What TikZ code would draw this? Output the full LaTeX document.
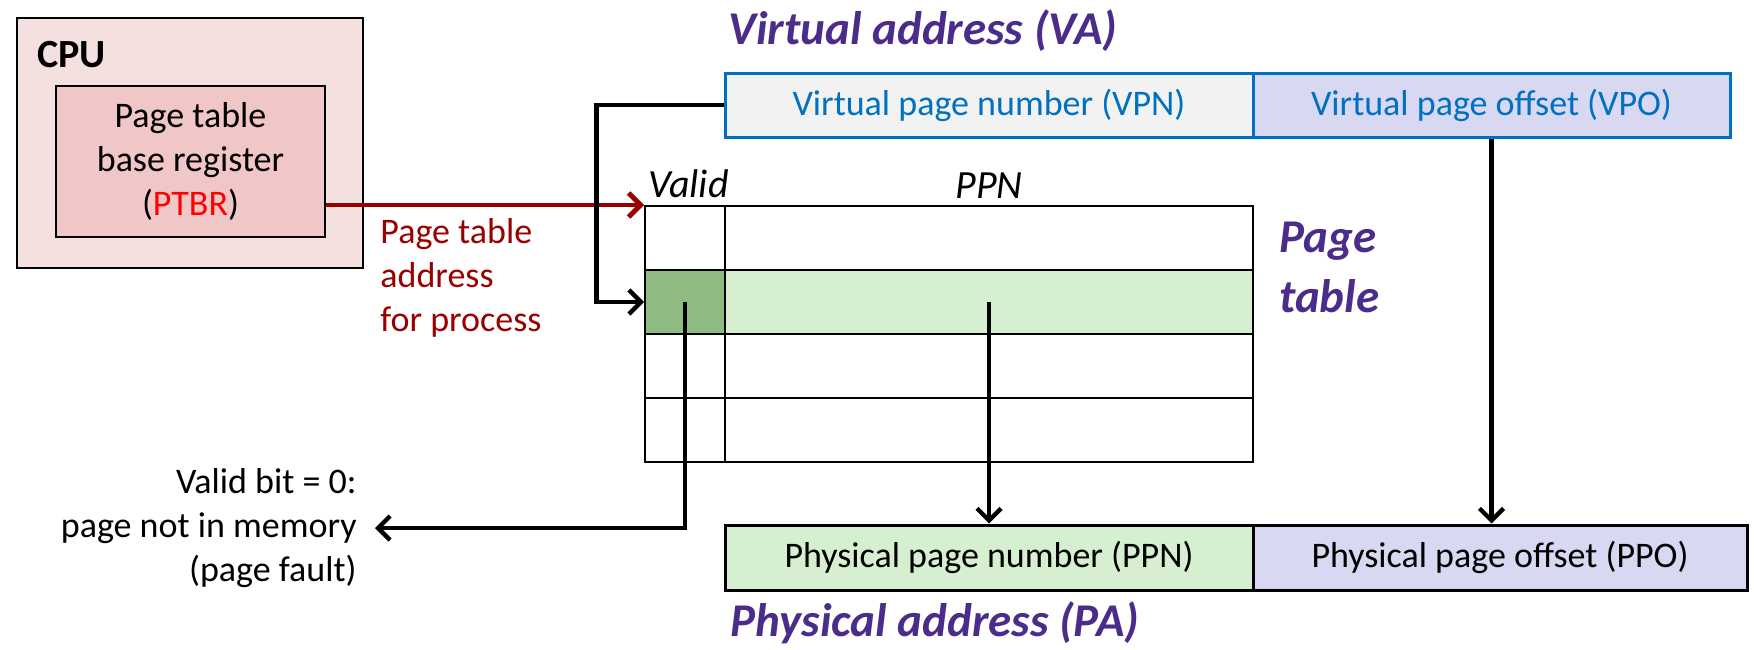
\documentclass[tikz,border=0pt]{standalone}
\usepackage{fontspec}
\setmainfont{Carlito}
\usetikzlibrary{arrows.meta}
\definecolor{cpufill}{RGB}{245,224,224}
\definecolor{ptbrfill}{RGB}{240,198,198}
\definecolor{darkred}{RGB}{153,0,0}
\definecolor{ptred}{RGB}{255,0,0}
\definecolor{vablue}{RGB}{0,112,192}
\definecolor{vpnfill}{RGB}{242,242,242}
\definecolor{lavender}{RGB}{216,216,242}
\definecolor{dgreen}{RGB}{142,187,130}
\definecolor{lgreen}{RGB}{214,239,208}
\definecolor{purp}{RGB}{75,44,138}
\tikzset{
  normal/.style={font=\fontsize{18}{22}\selectfont},
  header/.style={font=\fontsize{20}{24}\selectfont\itshape, inner sep=0},
  title/.style={font=\fontsize{23.5}{30}\selectfont\bfseries\itshape, text=purp, inner sep=0},
  cell/.style={draw, line width=1pt, minimum height=32pt, inner sep=0},
  vbox/.style={draw=vablue, line width=1.5pt, minimum height=32pt, text=vablue, normal, inner sep=0},
  pbox/.style={draw, line width=1.5pt, minimum height=32.5pt, normal, inner sep=0},
  blk/.style={line width=2.2pt, -{Straight Barb[length=6pt,width=12pt]}},
  redarr/.style={draw=darkred, line width=2.4pt, -{Straight Barb[length=6pt,width=12pt]}}
}
\begin{document}
\begin{tikzpicture}[x=0.5pt,y=-0.5pt]
\useasboundingbox (0,0) rectangle (1754,649);
% CPU
\node[draw, line width=1.2pt, fill=cpufill, minimum width=173pt, minimum height=125pt, inner sep=0] (cpu) at (190,143) {};
\node[font=\fontsize{20}{24}\selectfont\bfseries, anchor=base west, inner sep=0] (cputxt) at (37,67) {CPU};
\node[draw, line width=1.2pt, fill=ptbrfill, minimum width=134.5pt, minimum height=75.5pt, normal, align=center, inner sep=0] (ptbr) at (190.5,161.5) {Page table\\base register\\(\textcolor{ptred}{PTBR})};
% titles
\node[title, anchor=base west] (vatitle) at (728,44) {Virtual address (VA)};
\node[title, anchor=base west] (patitle) at (730,636) {Physical address (PA)};
\node[title, anchor=base west, align=left] (pttitle) at (1279,312) {Page\\table};
% virtual address
\node[vbox, fill=vpnfill, minimum width=264pt] (vpn) at (989,105) {Virtual page number (VPN)};
\node[vbox, fill=lavender, minimum width=238.5pt] (vpo) at (1491.5,105) {Virtual page offset (VPO)};
% physical address
\node[pbox, fill=lgreen, minimum width=264pt] (ppn) at (989,557.5) {Physical page number (PPN)};
\node[pbox, fill=lavender, minimum width=247pt] (ppo) at (1500,557.5) {Physical page offset (PPO)};
% page table
\node[cell, minimum width=40pt] (v1) at (685,238) {};
\node[cell, minimum width=40pt, fill=dgreen] (v2) at (685,302) {};
\node[cell, minimum width=40pt] (v3) at (685,366) {};
\node[cell, minimum width=40pt] (v4) at (685,430) {};
\node[cell, minimum width=264pt] (p1) at (989,238) {};
\node[cell, minimum width=264pt, fill=lgreen] (p2) at (989,302) {};
\node[cell, minimum width=264pt] (p3) at (989,366) {};
\node[cell, minimum width=264pt] (p4) at (989,430) {};
\node[header, anchor=base west] (validh) at (648,197) {Valid};
\node[header, anchor=base west] (ppnh) at (955,198) {PPN};
% labels
\node[normal, text=darkred, anchor=base west, align=left, inner sep=0] (ptaddr) at (380,331) {Page table\\address\\for process};
\node[normal, anchor=east, align=right, inner ysep=0, inner xsep=9pt] (fault) at (375,528) {Valid bit = 0:\\page not in memory\\(page fault)};
% connectors
\draw[redarr] (ptbr.east |- v1.north west) -- (v1.north west);
\draw[blk] (vpn.west) -- ++(-127,0) |- (v2.west);
\draw[blk] (v2.center) |- (fault.east);
\draw[blk] (p2.center) -- (ppn.north);
\draw[blk] (vpo.south) -- (vpo.south |- ppo.north);
\end{tikzpicture}
\end{document}
